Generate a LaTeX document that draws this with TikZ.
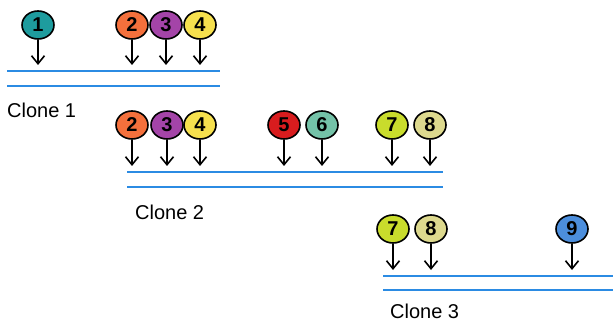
\documentclass[tikz,border=0pt]{standalone}
\usepackage{fontspec}
\setmainfont{Liberation Sans}
\usetikzlibrary{arrows.meta,shapes.geometric}
\definecolor{cA}{HTML}{1E9C9E}
\definecolor{cB}{HTML}{F4703C}
\definecolor{cC}{HTML}{A444A8}
\definecolor{cD}{HTML}{F6E04E}
\definecolor{cE}{HTML}{D81C1E}
\definecolor{cF}{HTML}{74C2A8}
\definecolor{cG}{HTML}{C9DC2C}
\definecolor{cH}{HTML}{DDD98E}
\definecolor{cI}{HTML}{4C8EDC}
\definecolor{lineblue}{HTML}{2B8BE3}
\tikzset{
  ball/.style={ellipse, draw=black, line width=1.6pt, minimum width=32pt, minimum height=28pt, inner sep=0pt,
    font=\fontsize{20}{20}\selectfont\bfseries},
  arr/.style={line width=1.6pt, -{Straight Barb[length=8pt,width=13pt,line width=1.6pt]}},
  dna/.style={draw=lineblue, line width=1.8pt},
  lab/.style={anchor=base west, inner sep=0pt, font=\fontsize{20}{20}\selectfont}
}
\begin{document}
\begin{tikzpicture}[x=1pt,y=-1pt]
\useasboundingbox (0,0) rectangle (613,323);
% Row 1
\foreach \n/\x/\c in {1/38/cA,2/132/cB,3/166/cC,4/200/cD}{
  \node[ball, fill=\c] (r1b\n) at (\x,25) {\n};
  \coordinate (r1t\n) at (\x,65);
  \draw[arr] (r1b\n.south) -- (r1t\n);
}
\coordinate (r1a) at (7,71); \coordinate (r1z) at (220,71);
\coordinate (r1c) at (7,86); \coordinate (r1d) at (220,86);
\draw[dna] (r1a) -- (r1z);
\draw[dna] (r1c) -- (r1d);
\node[lab] (clone1) at (7,118) {Clone 1};
% Row 2
\foreach \n/\x/\c in {2/132/cB,3/167/cC,4/200/cD,5/284/cE,6/322/cF,7/392/cG,8/430/cH}{
  \node[ball, fill=\c] (r2b\n) at (\x,125) {\n};
  \coordinate (r2t\n) at (\x,166);
  \draw[arr] (r2b\n.south) -- (r2t\n);
}
\coordinate (r2a) at (127,172); \coordinate (r2z) at (443,172);
\coordinate (r2c) at (127,187); \coordinate (r2d) at (443,187);
\draw[dna] (r2a) -- (r2z);
\draw[dna] (r2c) -- (r2d);
\node[lab] (clone2) at (135,220) {Clone 2};
% Row 3
\foreach \n/\x/\c in {7/393/cG,8/431/cH,9/572/cI}{
  \node[ball, fill=\c] (r3b\n) at (\x,229) {\n};
  \coordinate (r3t\n) at (\x,270);
  \draw[arr] (r3b\n.south) -- (r3t\n);
}
\coordinate (r3a) at (383,276); \coordinate (r3z) at (613,276);
\coordinate (r3c) at (383,290); \coordinate (r3d) at (613,290);
\draw[dna] (r3a) -- (r3z);
\draw[dna] (r3c) -- (r3d);
\node[lab] (clone3) at (390,318) {Clone 3};
\end{tikzpicture}
\end{document}
